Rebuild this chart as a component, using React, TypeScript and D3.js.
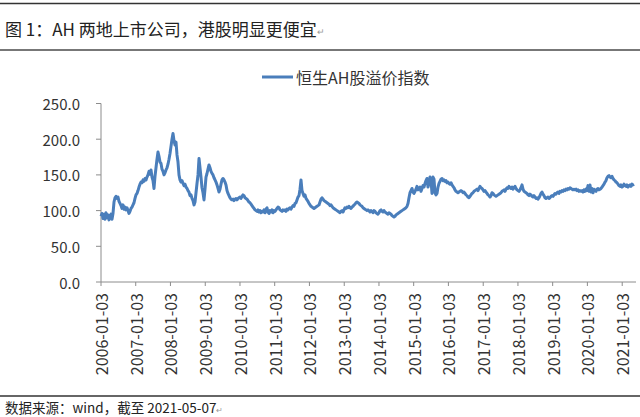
import React from "react";
import * as d3 from "d3";

const title = "图 1：AH 两地上市公司，港股明显更便宜";
const footer = "数据来源：wind，截至 2021-05-07";
const seriesName = "恒生AH股溢价指数";
const startDate = "2006-01-03";
const endDate = "2021-05-07";
const yTicks = [0, 50, 100, 150, 200, 250];
const xTickLabels = [
  "2006-01-03", "2007-01-03", "2008-01-03", "2009-01-03", "2010-01-03", "2011-01-03",
  "2012-01-03", "2013-01-03", "2014-01-03", "2015-01-03", "2016-01-03", "2017-01-03",
  "2018-01-03", "2019-01-03", "2020-01-03", "2021-01-03",
];

// Index values, evenly spaced in time from startDate to endDate
const values2006 = [92, 96, 89, 95, 88, 97, 90, 94, 87, 92, 95, 88, 96, 112, 118, 120, 117, 119, 113, 110, 107, 103, 108, 102, 105, 101, 104, 100, 96, 99, 103, 105, 108, 111, 117];
const values2007 = [122, 124, 128, 133, 137, 140, 139, 143, 141, 145, 143, 147, 150, 155, 151, 157, 147, 142, 131, 148, 160, 172, 182, 176, 168, 166, 158, 155, 150, 153, 157, 160, 165, 172, 180];
const values2008 = [190, 200, 208, 198, 192, 196, 178, 168, 150, 143, 140, 142, 138, 135, 137, 133, 131, 128, 126, 121, 122, 117, 114, 108, 112, 125, 138, 150, 173, 160, 147, 132, 125, 115, 130];
const values2009 = [147, 152, 158, 164, 160, 155, 152, 150, 146, 143, 140, 136, 131, 126, 130, 137, 143, 145, 143, 140, 136, 128, 124, 121, 118, 116, 115, 116, 114, 116, 117, 115, 117, 118, 119];
const values2010 = [117, 120, 122, 121, 118, 117, 116, 114, 112, 111, 109, 107, 105, 103, 101, 100, 99, 101, 98, 100, 97, 99, 98, 101, 97, 102, 104, 98, 96, 100, 98, 101, 97, 100, 99];
const values2011 = [101, 103, 105, 104, 101, 100, 99, 101, 100, 101, 99, 102, 101, 103, 104, 102, 105, 107, 106, 110, 111, 115, 119, 121, 130, 143, 128, 124, 120, 122, 117, 115, 113, 110, 108];
const values2012 = [106, 105, 104, 103, 104, 105, 106, 107, 108, 112, 116, 118, 116, 114, 113, 112, 111, 110, 109, 107, 108, 106, 104, 103, 102, 101, 100, 99, 98, 97, 99, 100, 98, 101, 104];
const values2013 = [103, 105, 104, 106, 104, 103, 105, 106, 108, 109, 111, 112, 111, 110, 108, 107, 106, 104, 103, 102, 101, 100, 101, 100, 98, 100, 99, 97, 100, 99, 97, 96, 95, 97, 100];
const values2014 = [101, 99, 98, 100, 98, 97, 96, 95, 97, 96, 95, 93, 92, 91, 92, 94, 95, 96, 97, 98, 99, 100, 101, 102, 103, 104, 106, 110, 118, 125, 128, 131, 126, 124, 127];
const values2015 = [130, 134, 129, 131, 133, 127, 131, 135, 133, 138, 142, 145, 133, 138, 147, 142, 124, 147, 144, 125, 122, 124, 133, 138, 141, 144, 145, 142, 143, 141, 142, 139, 140, 138, 137];
const values2016 = [139, 136, 134, 132, 129, 127, 126, 125, 126, 127, 128, 127, 125, 126, 124, 122, 121, 119, 118, 120, 122, 124, 125, 127, 128, 129, 130, 128, 131, 134, 132, 131, 129, 127, 128];
const values2017 = [126, 124, 122, 121, 119, 121, 125, 124, 122, 121, 120, 121, 122, 123, 124, 125, 127, 128, 129, 127, 130, 132, 131, 134, 132, 131, 133, 130, 132, 134, 131, 129, 128, 127, 129];
const values2018 = [132, 136, 130, 127, 126, 125, 124, 122, 121, 123, 122, 120, 119, 121, 119, 117, 118, 116, 118, 121, 124, 126, 123, 121, 118, 117, 118, 119, 117, 118, 120, 121, 120, 122, 124];
const values2019 = [123, 125, 126, 124, 127, 126, 128, 127, 129, 128, 130, 129, 131, 130, 132, 131, 130, 129, 130, 129, 130, 128, 129, 127, 128, 127, 128, 126, 129, 127, 130, 128, 135, 127, 136];
const values2020 = [126, 131, 125, 130, 128, 127, 130, 131, 129, 130, 131, 133, 135, 137, 140, 142, 146, 148, 149, 147, 146, 148, 145, 143, 142, 140, 139, 137, 135, 134, 136, 133, 134, 137, 135];
const values2021 = [134, 136, 133, 135, 136, 134, 137, 136, 137];

const values = [
  ...values2006, ...values2007, ...values2008, ...values2009, ...values2010, ...values2011,
  ...values2012, ...values2013, ...values2014, ...values2015, ...values2016, ...values2017,
  ...values2018, ...values2019, ...values2020, ...values2021,
];

const W = 640;
const H = 417;
const FONT = "'Noto Sans CJK SC', 'Noto Sans', sans-serif";
const BLUE = "#4a7ebb";

export default function App() {
  const parse = d3.timeParse("%Y-%m-%d");
  const t0 = parse(startDate)!;
  const t1 = parse(endDate)!;
  const n = values.length;
  const data = values.map((v, i) => ({
    date: new Date(t0.getTime() + ((t1.getTime() - t0.getTime()) * i) / (n - 1)),
    value: v,
  }));

  const plotLeft = 101;
  const plotRight = 634;
  const plotTop = 103.5;
  const plotBottom = 282;

  const x = d3.scaleTime().domain([t0, t1]).range([plotLeft, plotRight]);
  const y = d3.scaleLinear().domain([0, 250]).range([plotBottom, plotTop]);

  const line = d3
    .line<{ date: Date; value: number }>()
    .x((d) => x(d.date))
    .y((d) => y(d.value))
    .curve(d3.curveLinear);

  const axisColor = "#8c8c8c";
  const textColor = "#333333";

  return (
    <svg
      width={W}
      height={H}
      viewBox={`0 0 ${W} ${H}`}
      style={{ position: "absolute", left: 0, top: 0, background: "#fff" }}
    >
      <rect x={0} y={0} width={W} height={H} fill="#fff" />
      {/* header */}
      <line x1={0} x2={W} y1={3.5} y2={3.5} stroke="#333" strokeWidth={1.5} />
      <text x={5} y={28} dominantBaseline="central" fontFamily={FONT} fontSize={17} fill="#222">
        {title}
        <tspan fontSize={9} fill="#999" dy={3}>↵</tspan>
      </text>
      <line x1={0} x2={W} y1={50} y2={50} stroke="#777" strokeWidth={2} />

      {/* legend */}
      <line x1={262} x2={293} y1={77} y2={77} stroke={BLUE} strokeWidth={3} />
      <text x={296} y={77} dominantBaseline="central" fontFamily={FONT} fontSize={16} fill={textColor}>
        {seriesName}
      </text>

      {/* y axis */}
      <line x1={plotLeft} x2={plotLeft} y1={plotTop} y2={plotBottom} stroke={axisColor} strokeWidth={1} />
      {yTicks.map((t) => (
        <g key={t}>
          <line x1={plotLeft - 5} x2={plotLeft} y1={y(t)} y2={y(t)} stroke={axisColor} strokeWidth={1} />
          <text
            x={80}
            y={y(t)}
            textAnchor="end"
            dominantBaseline="central"
            fontFamily={FONT}
            fontSize={15}
            fill={textColor}
          >
            {d3.format(".1f")(t)}
          </text>
        </g>
      ))}

      {/* x axis */}
      <line x1={plotLeft} x2={636} y1={plotBottom} y2={plotBottom} stroke={axisColor} strokeWidth={1} />
      {xTickLabels.map((lab) => {
        const xx = x(parse(lab)!);
        return (
          <g key={lab}>
            <line x1={xx} x2={xx} y1={plotBottom} y2={plotBottom + 4} stroke={axisColor} strokeWidth={1} />
            <text
              transform={`translate(${xx},${plotBottom + 11}) rotate(-90)`}
              textAnchor="end"
              dominantBaseline="central"
              fontFamily={FONT}
              fontSize={16}
              fill={textColor}
            >
              {lab}
            </text>
          </g>
        );
      })}

      {/* series */}
      <path d={line(data) || ""} fill="none" stroke={BLUE} strokeWidth={3} strokeLinejoin="round" />

      {/* footer */}
      <line x1={0} x2={W} y1={396} y2={396} stroke="#333" strokeWidth={1.5} />
      <text x={5} y={407} dominantBaseline="central" fontFamily={FONT} fontSize={13.5} fill="#222">
        {footer}
        <tspan fontSize={8} fill="#999" dy={2}>↵</tspan>
      </text>
    </svg>
  );
}
